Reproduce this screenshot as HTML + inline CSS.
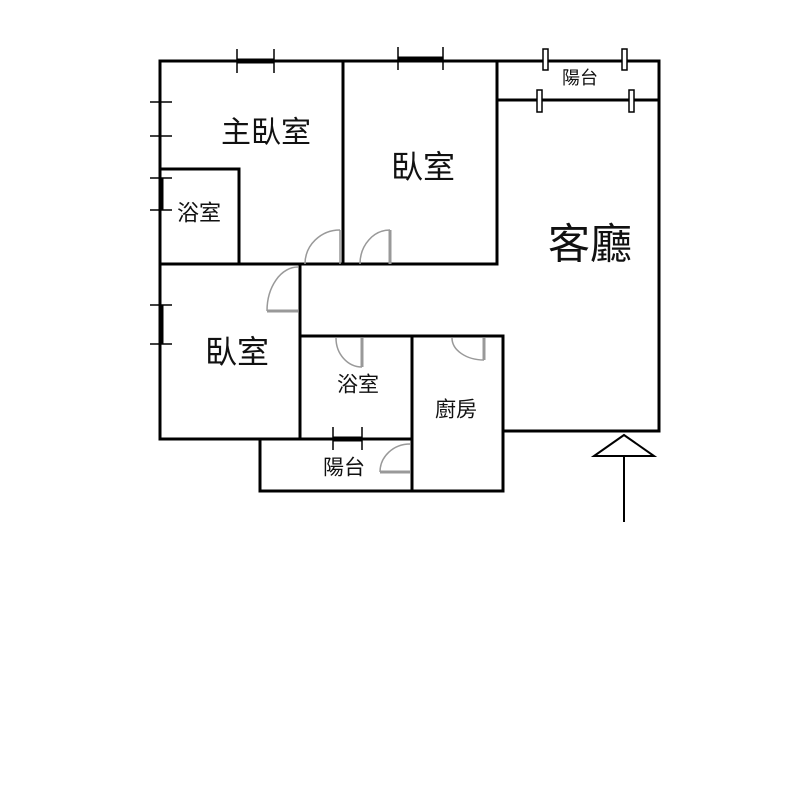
<!DOCTYPE html>
<html><head><meta charset="utf-8"><style>
html,body{margin:0;padding:0;background:#fff;}
svg{display:block;}
text{font-family:"Liberation Sans","Noto Sans CJK TC",sans-serif;fill:#111;text-anchor:middle;dominant-baseline:central;}
</style></head><body>
<svg width="800" height="800" viewBox="0 0 800 800" xmlns="http://www.w3.org/2000/svg">
<g stroke="#000" stroke-width="3" fill="none" stroke-linecap="square">
<!-- outer top -->
<line x1="160" y1="61" x2="659" y2="61"/>
<line x1="160" y1="61" x2="160" y2="439"/>
<line x1="659" y1="61" x2="659" y2="431"/>
<line x1="503" y1="431" x2="659" y2="431"/>
<!-- interior walls -->
<line x1="343" y1="61" x2="343" y2="264"/>
<line x1="497" y1="64" x2="497" y2="264"/>
<line x1="497" y1="100" x2="659" y2="100"/>
<line x1="160" y1="264" x2="497" y2="264"/>
<line x1="160" y1="169" x2="239" y2="169"/>
<line x1="239" y1="169" x2="239" y2="264"/>
<line x1="300" y1="264" x2="300" y2="439"/>
<line x1="300" y1="336" x2="503" y2="336"/>
<line x1="503" y1="336" x2="503" y2="491"/>
<line x1="412" y1="336" x2="412" y2="491"/>
<line x1="160" y1="439" x2="412" y2="439"/>
<line x1="260" y1="439" x2="260" y2="491"/>
<line x1="260" y1="491" x2="503" y2="491"/>
</g>
<!-- windows -->
<g stroke="#000" stroke-width="1.5">
<line x1="237" y1="49" x2="237" y2="73"/><line x1="274" y1="49" x2="274" y2="73"/>
<line x1="398" y1="47" x2="398" y2="70"/><line x1="443" y1="47" x2="443" y2="70"/>
<line x1="150" y1="102" x2="172" y2="102"/><line x1="150" y1="136" x2="172" y2="136"/>
<line x1="150" y1="178" x2="172" y2="178"/><line x1="150" y1="210" x2="172" y2="210"/>
<line x1="150" y1="305" x2="172" y2="305"/><line x1="150" y1="344" x2="172" y2="344"/>
<line x1="333" y1="427" x2="333" y2="450"/><line x1="362" y1="427" x2="362" y2="450"/>
</g>
<g stroke="#000" stroke-width="5">
<line x1="237" y1="61" x2="274" y2="61"/><line x1="398" y1="59" x2="443" y2="59"/>
<line x1="161" y1="178" x2="161" y2="210"/><line x1="161" y1="305" x2="161" y2="344"/>
<line x1="333" y1="439" x2="362" y2="439"/>
</g>
<g fill="#fff" stroke="#000" stroke-width="1.5">
<rect x="543" y="49" width="5" height="21"/><rect x="622" y="49" width="5" height="21"/>
<rect x="537" y="90" width="5" height="22"/><rect x="629" y="90" width="5" height="22"/>
</g>
<!-- doors -->
<g stroke="#999" stroke-width="1.5" fill="none">
<path d="M305 264 A35 34 0 0 1 340 230"/><line x1="340" y1="230" x2="340" y2="264"/>
<path d="M360 264 A30 34 0 0 1 390 230"/><line x1="390" y1="230" x2="390" y2="264" stroke-width="3"/>
<path d="M267 311 A31 44 0 0 1 298 267"/><line x1="267" y1="311" x2="298" y2="311" stroke-width="3"/>
<path d="M336 338 A26 29 0 0 0 362 367"/><line x1="362" y1="338" x2="362" y2="367" stroke-width="3"/>
<path d="M452 338 A32 22 0 0 0 484 360"/><line x1="484" y1="338" x2="484" y2="360" stroke-width="3"/>
<path d="M380 472 A30 28 0 0 1 410 444"/><line x1="380" y1="472" x2="410" y2="472" stroke-width="3"/>
</g>
<!-- arrow -->
<polygon points="624,435 594,456 654,456" fill="#fff" stroke="#000" stroke-width="2"/>
<line x1="624" y1="456" x2="624" y2="522" stroke="#000" stroke-width="2"/>
<!-- labels -->
<text x="266" y="133" font-size="30">主臥室</text>
<text x="423" y="167" font-size="32">臥室</text>
<text x="199" y="213" font-size="22">浴室</text>
<text x="590" y="244" font-size="42">客廳</text>
<text x="580" y="78" font-size="18">陽台</text>
<text x="237" y="352" font-size="32">臥室</text>
<text x="358" y="385" font-size="21">浴室</text>
<text x="456" y="410" font-size="21">廚房</text>
<text x="344" y="468" font-size="21">陽台</text>
</svg>
</body></html>
